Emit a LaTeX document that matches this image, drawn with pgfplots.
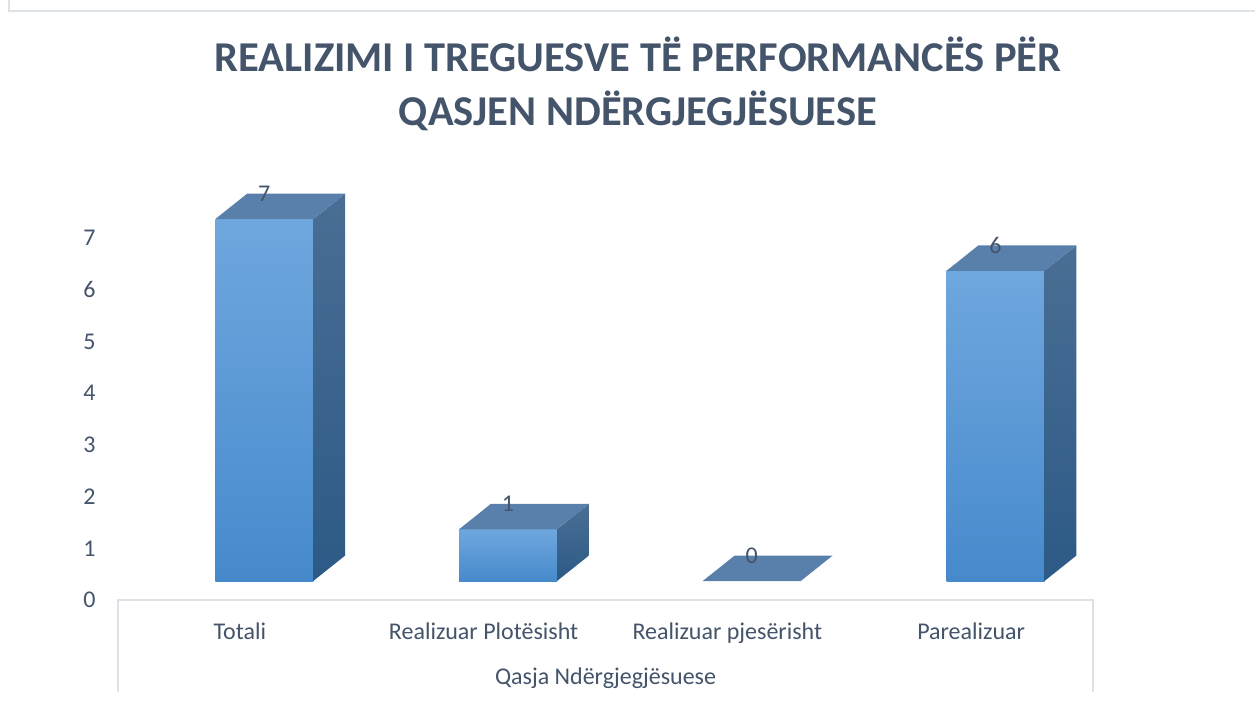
\documentclass[border=0pt]{standalone}
\usepackage{pgfplots}
\pgfplotsset{compat=1.18}
\usepackage{fontspec}
\setmainfont{Carlito}
\definecolor{txt}{HTML}{44546A}
\definecolor{frontT}{HTML}{6FA7DE}
\definecolor{frontB}{HTML}{468ACC}
\definecolor{topc}{HTML}{5880AA}
\definecolor{sideT}{HTML}{4A6E94}
\definecolor{sideB}{HTML}{2C5A86}
\definecolor{linec}{HTML}{DDE1E8}
% 3D bar: #1 = category index, #2 = value
\newcommand\cubebar[2]{%
  \pgfmathsetmacro\xl{#1+0.1-0.201}%
  \pgfmathsetmacro\xr{#1+0.1+0.201}%
  \pgfmathsetmacro\xc{#1+0.1}%
  \pgfmathsetmacro\xll{\xl+0.131}%
  \pgfmathsetmacro\xrr{\xr+0.131}%
  \pgfmathsetmacro\yb{0.367}%
  \pgfmathsetmacro\yt{#2+0.367}%
  \pgfmathsetmacro\ybb{\yb+0.493}%
  \pgfmathsetmacro\ytt{\yt+0.493}%
  \ifdim #2pt>0pt
    \edef\temp{\noexpand\addplot[draw=none, top color=frontT, bottom color=frontB] coordinates {(\xl,\yb) (\xr,\yb) (\xr,\yt) (\xl,\yt)} -- cycle;}\temp
    \edef\temp{\noexpand\addplot[draw=none, top color=sideT, bottom color=sideB] coordinates {(\xr,\yb) (\xrr,\ybb) (\xrr,\ytt) (\xr,\yt)} -- cycle;}\temp
  \fi
  \edef\temp{\noexpand\addplot[draw=none, fill=topc] coordinates {(\xl,\yt) (\xr,\yt) (\xrr,\ytt) (\xll,\ytt)} -- cycle;}\temp
  \edef\temp{\noexpand\node[anchor=center, text=txt, font=\noexpand\fontsize{24bp}{28bp}\noexpand\selectfont] at (axis cs:\xc,\ytt) {#2};}\temp
}
\begin{document}
\begin{tikzpicture}[x=1bp,y=1bp]
\fill[white] (0,0) rectangle (1255,702);
\path[use as bounding box] (0,0) rectangle (1255,702);
% outer chart border
\draw[linec, line width=2bp] (9,702) -- (9,691) -- (1255,691);
% title
\node[anchor=base, text=txt, font=\fontsize{42.5bp}{50bp}\selectfont\bfseries] at (638,630) {REALIZIMI I TREGUESVE TË PERFORMANCËS PËR};
\node[anchor=base, text=txt, font=\fontsize{42.5bp}{50bp}\selectfont\bfseries] at (638,576) {QASJEN NDËRGJEGJËSUESE};
% category table lines
\draw[linec, line width=2bp] (118,10) -- (118,102) -- (1093,102) -- (1093,10);
\begin{axis}[
  at={(118bp,102bp)}, anchor=south west,
  scale only axis, width=975bp, height=439.45bp,
  xmin=-0.5, xmax=3.5, ymin=0, ymax=8.5,
  clip=false,
  axis line style={draw=none},
  major tick length=0pt,
  ytick={0,1,2,3,4,5,6,7},
  yticklabel style={anchor=center, xshift=-28.5bp, text=txt, font=\fontsize{24bp}{28bp}\selectfont},
  xtick={0,1,2,3},
  xticklabels={Totali, Realizuar Plotësisht, Realizuar pjesërisht, Parealizuar},
  xticklabel style={anchor=base, yshift=-39.5bp, text=txt, font=\fontsize{24bp}{28bp}\selectfont},
  /pgf/number format/assume math mode=true,
]
\cubebar{0}{7}
\cubebar{1}{1}
\cubebar{2}{0}
\cubebar{3}{6}
\end{axis}
\node[anchor=base, text=txt, font=\fontsize{24bp}{28bp}\selectfont] at (605.5,17) {Qasja Ndërgjegjësuese};
\end{tikzpicture}
\end{document}
